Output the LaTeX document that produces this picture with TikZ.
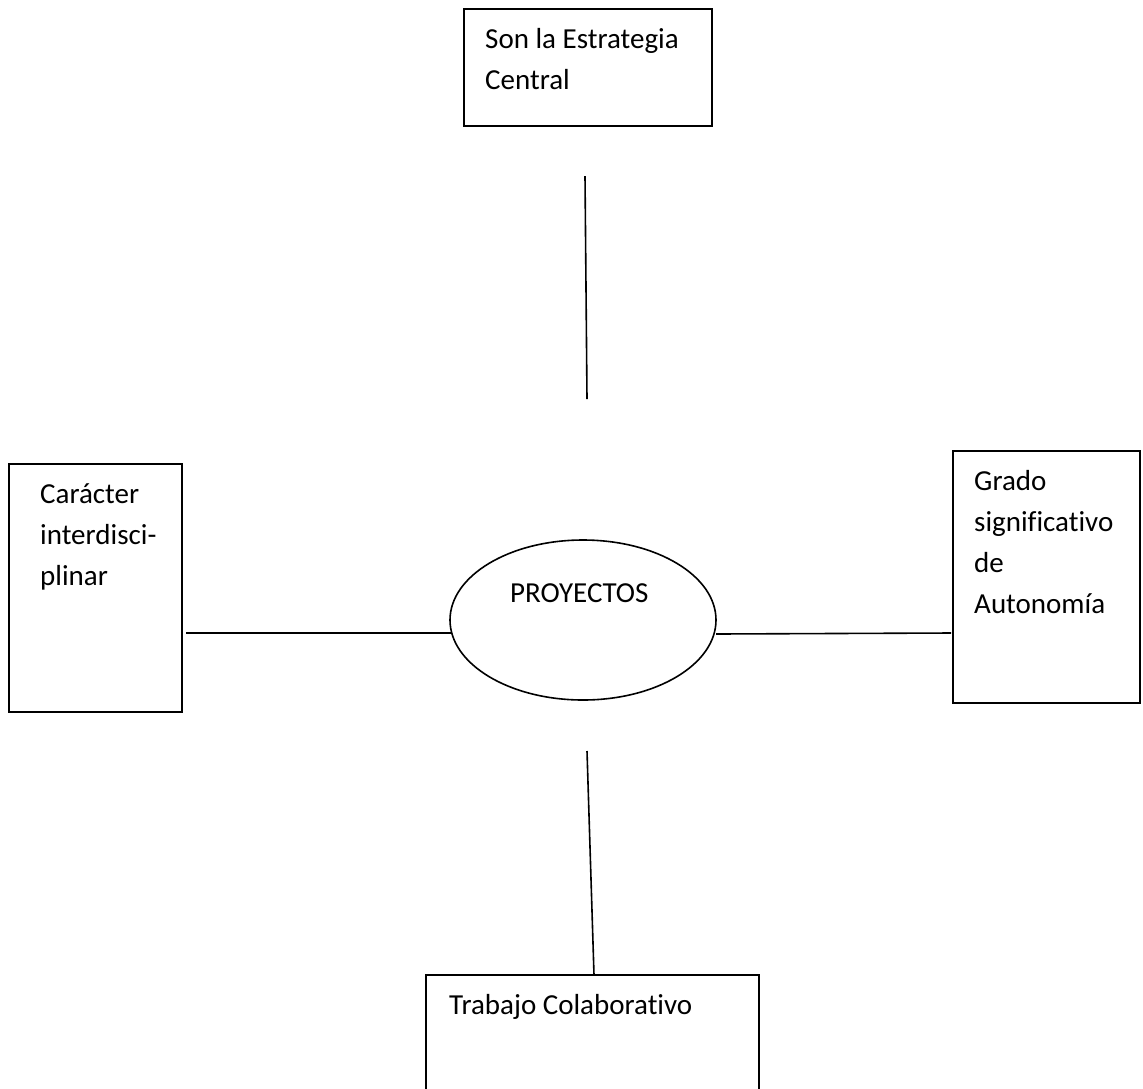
\documentclass[tikz,border=0pt]{standalone}
\usepackage{fontspec}
\setmainfont[Ligatures={NoCommon}]{Carlito}
\usetikzlibrary{shapes.geometric}
\begin{document}
\begin{tikzpicture}[x=1pt,y=-1pt,
  box/.style={draw=black,line width=1.6pt,rectangle,inner sep=0pt},
  oval/.style={draw=black,line width=1.6pt,ellipse,inner sep=0pt,minimum width=266pt,minimum height=160pt},
  txt/.style={anchor=base west,inner sep=0pt,font=\fontsize{29}{40}\selectfont,text=black},
  conn/.style={draw=black,line width=1.6pt}]
\useasboundingbox (0,0) rectangle (1143,1088);
\clip (0,0) rectangle (1143,1088);
% boxes
\node[box,minimum width=248pt,minimum height=117pt] (top) at (588,67.5) {};
\node[box,minimum width=173pt,minimum height=248pt] (left) at (95.5,588) {};
\node[box,minimum width=187pt,minimum height=252pt] (right) at (1046.5,577) {};
\node[box,minimum width=333pt,minimum height=140pt] (bottom) at (592.5,1045) {};
\node[oval] (proj) at (583,620) {};
% texts
\node[txt] (t1) at (485,48) {Son la Estrategia};
\node[txt] (t2) at (485,89) {Central};
\node[txt] (l1) at (40,503) {Carácter};
\node[txt] (l2) at (40,544) {interdisci-};
\node[txt] (l3) at (40,585) {plinar};
\node[txt] (r1) at (974,490) {Grado};
\node[txt] (r2) at (974,531) {significativo};
\node[txt] (r3) at (974,572) {de};
\node[txt] (r4) at (974,613) {Autonomía};
\node[txt] (b1) at (449,1014) {Trabajo Colaborativo};
\node[txt] (p1) at (510,602) {PROYECTOS};
% connector ends
\coordinate (ta) at (585,176);
\coordinate (tb) at (587,399);
\coordinate (la) at (186,633);
\coordinate (lb) at (451,633);
\coordinate (ra) at (716,634);
\coordinate (rb) at (951,633);
\coordinate (ba) at (587,751);
\coordinate (bb) at (594,975);
% connectors
\draw[conn] (ta) -- (tb);
\draw[conn] (la) -- (lb);
\draw[conn] (ra) -- (rb);
\draw[conn] (ba) -- (bb);
\end{tikzpicture}
\end{document}
